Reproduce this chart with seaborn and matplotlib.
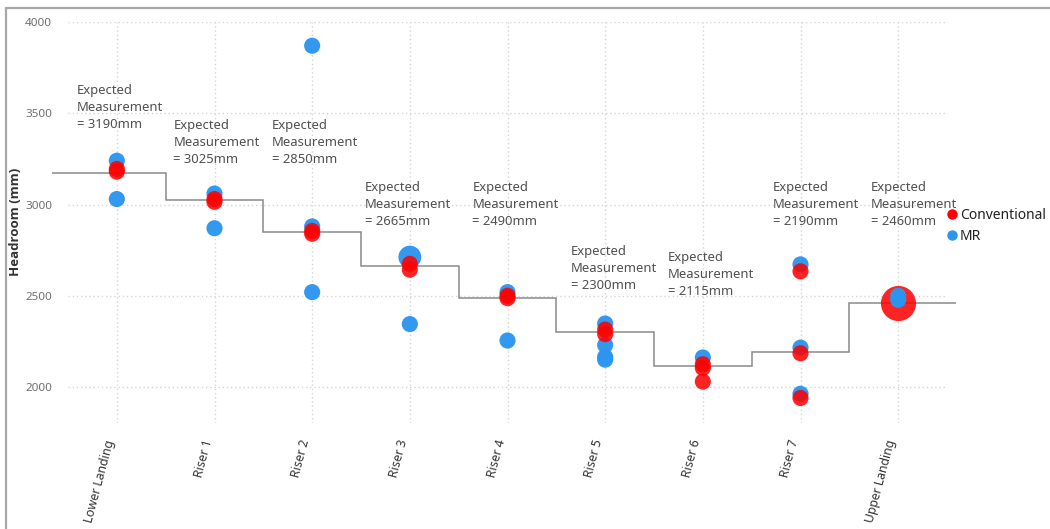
import matplotlib
matplotlib.use("Agg")
import matplotlib.pyplot as plt
from matplotlib.lines import Line2D
import numpy as np
import pandas as pd
import seaborn as sns

# ---------------- data ----------------
categories = ["Lower Landing", "Riser 1", "Riser 2", "Riser 3", "Riser 4",
              "Riser 5", "Riser 6", "Riser 7", "Upper Landing"]
expected_label = [3190, 3025, 2850, 2665, 2490, 2300, 2115, 2190, 2460]
expected_line = [3175, 3025, 2850, 2665, 2490, 2300, 2115, 2190, 2460]

mr_cat = ["Lower Landing", "Lower Landing", "Riser 1", "Riser 1",
          "Riser 2", "Riser 2", "Riser 2", "Riser 3", "Riser 3",
          "Riser 4", "Riser 4", "Riser 5", "Riser 5", "Riser 5", "Riser 5",
          "Riser 6", "Riser 7", "Riser 7", "Riser 7",
          "Upper Landing", "Upper Landing"]
mr_val = [3240, 3030, 3060, 2870,
          3870, 2880, 2520, 2712, 2345,
          2520, 2255, 2348, 2230, 2165, 2150,
          2162, 2672, 2216, 1963,
          2500, 2478]
mr_count = [1, 1, 1, 1, 1, 1, 1, 2, 1, 1, 1, 1, 1, 1, 1, 1, 1, 1, 1, 1, 1]

conv_cat = ["Lower Landing", "Lower Landing", "Riser 1", "Riser 1",
            "Riser 2", "Riser 2", "Riser 3", "Riser 3",
            "Riser 4", "Riser 4", "Riser 5", "Riser 5",
            "Riser 6", "Riser 6", "Riser 6", "Riser 7", "Riser 7", "Riser 7",
            "Upper Landing"]
conv_val = [3195, 3180, 3030, 3015,
            2855, 2840, 2675, 2643,
            2500, 2487, 2315, 2290,
            2125, 2105, 2030, 2634, 2185, 1940,
            2460]
conv_count = [1, 1, 1, 1, 1, 1, 1, 1, 1, 1, 1, 1, 1, 1, 1, 1, 1, 1, 5]

series = ["Conventional", "MR"]
yticks = [2000, 2500, 3000, 3500, 4000]

# ---------------- layout / style ----------------
label_dx = [-0.41, -0.42, -0.41, -0.46, -0.36, -0.35, -0.36, -0.28, -0.28]
label_y = [3534, 3342, 3342, 2999, 2999, 2648, 2614, 2999, 2999]
colors = {"Conventional": "#FF0000", "MR": "#2B95F0"}
alphas = {"Conventional": 0.86, "MR": 0.97}
size_map = {1: 135, 2: 270, 5: 640}

df = pd.DataFrame({
    "cat": mr_cat + conv_cat,
    "value": mr_val + conv_val,
    "series": ["MR"] * len(mr_val) + ["Conventional"] * len(conv_val),
    "count": mr_count + conv_count,
})
df["x"] = df["cat"].map({c: i for i, c in enumerate(categories)})

sns.set_theme(style="white")
plt.rcParams["font.family"] = ["Noto Sans", "DejaVu Sans"]

W, H = 1050, 529
fig = plt.figure(figsize=(W / 100, H / 100), dpi=100)
ax = fig.add_axes([68 / W, 1 - 423 / H, (947 - 68) / W, (423 - 22) / H])

# gridlines
for yv in yticks:
    ax.axhline(yv, color="#D5D5D5", lw=1.0, ls=(0, (1, 2)), zorder=0)
for i in range(len(categories)):
    ax.axvline(i, color="#D5D5D5", lw=1.0, ls=(0, (1, 2)), zorder=0)

# expected step line
edges = np.concatenate([[-0.66], np.arange(len(categories) - 1) + 0.5, [8.59]])
st = ax.stairs(expected_line, edges, baseline=None, color="#8A8A8A", lw=1.1,
               zorder=1)
st.set_clip_on(False)

# points: large aggregated markers first, then MR, then Conventional on top
groups = [
    df[(df["count"] >= 5)],
    df[(df["count"] < 5) & (df["series"] == "MR")],
    df[(df["count"] < 5) & (df["series"] == "Conventional")],
]
z = 3
for sub in groups:
    for s, part in sub.groupby("series"):
        sns.scatterplot(data=part, x="x", y="value", hue="series",
                        size="count", sizes=size_map, palette=colors,
                        alpha=alphas[s], linewidth=0, legend=False, ax=ax,
                        zorder=z, clip_on=False)
        z += 0.1

# annotations
for i, (ev, dx, ly) in enumerate(zip(expected_label, label_dx, label_y)):
    ax.text(i + dx, ly, f"Expected\nMeasurement\n= {ev}mm", ha="left",
            va="center", fontsize=9.4, color="#505050", linespacing=1.4,
            zorder=5)

ax.set_xlim(-0.5, len(categories) - 0.5)
ax.set_ylim(1803, 4000)
ax.set_xticks(range(len(categories)))
ax.set_xticklabels(categories)
ax.set_yticks(yticks)
ax.tick_params(axis="y", length=0, pad=11.5, labelsize=8.4, labelcolor="#707070")
ax.tick_params(axis="x", length=0, pad=11, labelsize=8.8, labelcolor="#333333")
for lab in ax.get_xticklabels():
    lab.set_rotation(75)
    lab.set_ha("right")
    lab.set_va("top")
for sp in ax.spines.values():
    sp.set_visible(False)
ax.set_xlabel("")
ax.set_ylabel("")
fig.text(16 / W, 1 - 222 / H, "Headroom (mm)", rotation=90, ha="center",
         va="center", fontsize=9.5, fontweight="bold", color="#333333",
         family=["Open Sans", "DejaVu Sans"])

# legend
handles = [Line2D([], [], marker="o", ls="", markersize=7.5,
                  markerfacecolor=colors[s], markeredgewidth=0) for s in series]
fig.legend(handles, series, loc="upper left",
           bbox_to_anchor=(948 / W, 1 - 208 / H), frameon=False,
           handlelength=0.6, handletextpad=0.25, labelspacing=0.45,
           borderpad=0, borderaxespad=0, fontsize=10, labelcolor="#222222")

# outer frame (top and left edge visible)
fig.add_artist(Line2D([6 / W, 1], [1 - 8 / H, 1 - 8 / H],
                      transform=fig.transFigure, color="#A8A8A8", lw=1.6))
fig.add_artist(Line2D([6 / W, 6 / W], [0, 1 - 8 / H],
                      transform=fig.transFigure, color="#A8A8A8", lw=1.6))

fig.savefig("out.png", dpi=100)
